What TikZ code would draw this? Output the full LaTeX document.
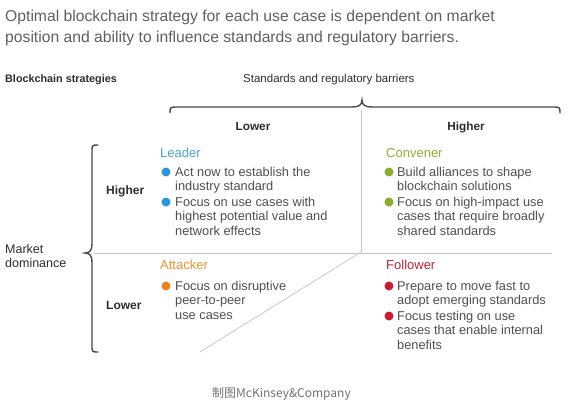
\documentclass[tikz,border=0pt]{standalone}
\usepackage{fontspec}
\setmainfont{Liberation Sans}
\newfontfamily\cjk{Noto Sans CJK SC}
\newcommand\stk[1]{\vtop{\halign{##\hfil\cr #1\crcr}}}
\definecolor{bodygray}{HTML}{505050}
\definecolor{titlegray}{HTML}{606060}
\definecolor{headgray}{HTML}{2E2E2E}
\definecolor{linegray}{HTML}{C4C4C4}
\definecolor{bracegray}{HTML}{4A4A4A}
\definecolor{leadblue}{HTML}{4AA3D6}
\definecolor{leaddot}{HTML}{2A97DB}
\definecolor{convgreen}{HTML}{93AA3C}
\definecolor{convdot}{HTML}{8CAA2C}
\definecolor{attorange}{HTML}{EA9438}
\definecolor{attdot}{HTML}{EE8222}
\definecolor{follred}{HTML}{B3283B}
\definecolor{folldot}{HTML}{C81E33}
\tikzset{
  txt/.style={inner sep=0pt, anchor=base west},
  titletxt/.style={txt, text=titlegray, font=\fontsize{15.7}{21}\selectfont},
  axistxt/.style={txt, text=headgray, font=\fontsize{11.5}{14}\selectfont},
  axisbold/.style={txt, text=headgray, font=\fontsize{10.8}{14}\selectfont\bfseries},
  colhead/.style={inner sep=0pt, anchor=base, text=headgray, font=\fontsize{11.8}{14}\selectfont\bfseries},
  rowhead/.style={txt, text=headgray, font=\fontsize{12}{14}\selectfont\bfseries},
  quadhead/.style={txt, font=\fontsize{13}{15}\selectfont},
  item/.style={txt, text=bodygray, font=\fontsize{12.8}{14.6}\selectfont},
  divider/.style={draw=linegray, line width=0.9pt},
  bracestyle/.style={draw=bracegray, line width=1.4pt, line cap=round},
}
\begin{document}
\begin{tikzpicture}[x=1pt,y=-1pt]
\useasboundingbox[fill=white] (0,0) rectangle (575,405);

% title
\node[titletxt] (title) at (5,21) {\stk{Optimal blockchain strategy for each use case is dependent on market\cr position and ability to influence standards and regulatory barriers.}};

% axis labels
\node[axisbold] (strat) at (5,82) {Blockchain strategies};
\node[axistxt] (stand) at (243,82) {Standards and regulatory barriers};

% top brace
\coordinate (tbL) at (170,113);
\coordinate (tbM) at (362,100);
\coordinate (tbR) at (560,113);
\draw[bracestyle] (tbL) .. controls (170,107) .. (178,107) -- (352,107)
  .. controls (359,107) and (362,105) .. (tbM)
  .. controls (362,105) and (365,107) .. (372,107) -- (552,107)
  .. controls (560,107) .. (tbR);

\node[colhead] (lowcol) at (253,130) {Lower};
\node[colhead] (highcol) at (466,130) {Higher};

% left brace
\coordinate (lbT) at (98,145);
\coordinate (lbM) at (85,253);
\coordinate (lbB) at (98,352);
\draw[bracestyle] (lbT) .. controls (92,145) .. (92,152) -- (92,244)
  .. controls (92,250) and (90,253) .. (lbM)
  .. controls (90,253) and (92,256) .. (92,262) -- (92,345)
  .. controls (92,352) .. (lbB);

\node[txt, text=headgray, font=\fontsize{12.5}{14}\selectfont] (mkt) at (5,253) {\stk{Market\cr dominance}};
\node[rowhead] (hirow) at (106,194) {Higher};
\node[rowhead] (lorow) at (106,309) {Lower};

% dividers
\coordinate (vTop) at (361,110);
\coordinate (center) at (361,252);
\coordinate (hL) at (94,253);
\coordinate (hR) at (552,253);
\coordinate (diagEnd) at (200,352);
\draw[divider] (vTop) -- (center);
\draw[divider] (hL) -- (hR);
\draw[divider, draw=linegray!85] (center) -- (diagEnd);

% Leader
\node[quadhead, text=leadblue] (leader) at (160,157) {Leader};
\node[item] (l1) at (175,176) {\stk{Act now to establish the\cr industry standard}};
\node[item] (l2) at (175,206) {\stk{Focus on use cases with\cr highest potential value and\cr network effects}};
\fill[leaddot] (166,172) circle (4.5);
\fill[leaddot] (166,202) circle (4.5);

% Convener
\node[quadhead, text=convgreen] (conv) at (386,157) {Convener};
\node[item] (c1) at (397,176) {\stk{Build alliances to shape\cr blockchain solutions}};
\node[item] (c2) at (397,206) {\stk{Focus on high-impact use\cr cases that require broadly\cr shared standards}};
\fill[convdot] (389,172) circle (4.5);
\fill[convdot] (389,202) circle (4.5);

% Attacker
\node[quadhead, text=attorange] (att) at (160,269) {Attacker};
\node[item] (a1) at (175,290) {\stk{Focus on disruptive\cr peer-to-peer\cr use cases}};
\fill[attdot] (166,286) circle (4.5);

% Follower
\node[quadhead, text=follred] (foll) at (386,269) {Follower};
\node[item] (f1) at (397,290) {\stk{Prepare to move fast to\cr adopt emerging standards}};
\node[item] (f2) at (397,320) {\stk{Focus testing on use\cr cases that enable internal\cr benefits}};
\fill[folldot] (389,286) circle (4.5);
\fill[folldot] (389,316) circle (4.5);

% footer
\node[txt, text=bodygray!80, font=\cjk\fontsize{12}{14}\selectfont] (foot) at (212,397) {制图McKinsey\&Company};
\end{tikzpicture}
\end{document}
